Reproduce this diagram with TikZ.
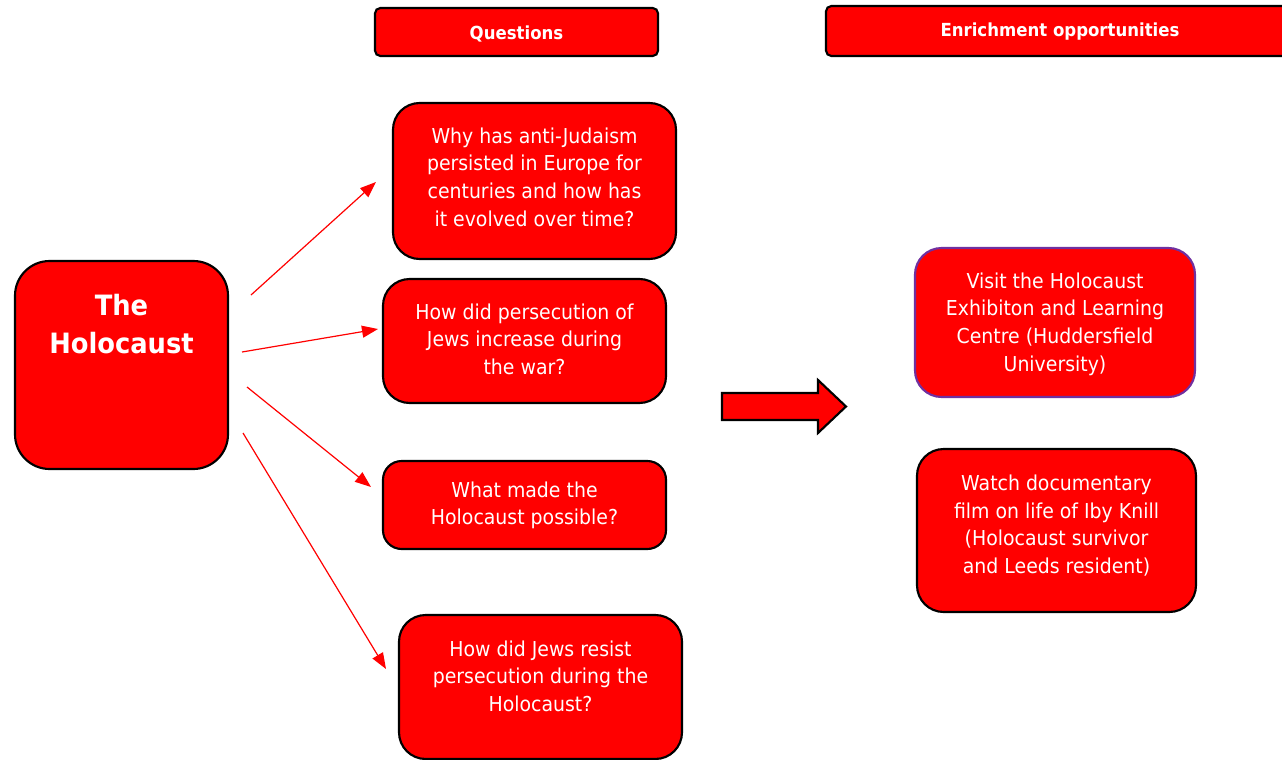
\documentclass[tikz,border=0pt]{standalone}
\usepackage{fontspec}
\setmainfont{DejaVu Sans}[FakeStretch=0.92]
\usetikzlibrary{arrows.meta}
\definecolor{boxred}{RGB}{255,0,0}
\definecolor{edgepurple}{RGB}{112,48,160}
\tikzset{
  box/.style={draw=black, line width=1.6pt, fill=boxred, rounded corners=20pt, inner sep=0pt},
  boxtext/.style={text=white, align=center, inner sep=0pt, font=\fontsize{15.4}{20.7}\selectfont},
  header/.style={draw=black, line width=1.6pt, fill=boxred, rounded corners=4pt, inner sep=0pt},
  headtext/.style={text=white, align=center, inner sep=0pt, font=\fontsize{13.5}{15}\selectfont\bfseries},
  link/.style={draw=boxred, line width=0.9pt, -{Triangle[length=12pt,width=9pt]}},
  bigarrow/.style={draw=black, line width=1.6pt, fill=boxred}
}
\begin{document}
\begin{tikzpicture}[x=0.75pt,y=-0.75pt]
\useasboundingbox (0,0) rectangle (1282,760);
\clip (0,0) rectangle (1282,760);
% headers
\node[header, minimum width=212.25pt, minimum height=36pt] (qhead) at (516.5,32) {};
\node[headtext] (qheadtext) at (516.5,33.5) {Questions};
\node[header, minimum width=351pt, minimum height=37.5pt] (ehead) at (1060,31) {};
\node[headtext] (eheadtext) at (1060,31.5) {Enrichment opportunities};
% main box
\node[box, rounded corners=26pt, minimum width=159.75pt, minimum height=156pt] (holo) at (121.5,365) {};
\node[text=white, align=center, font=\fontsize{21}{28.5}\selectfont\bfseries] (holotext) at (121.5,324) {The\\Holocaust};
% question boxes
\node[box, minimum width=212.25pt, minimum height=117pt] (q1) at (534.5,181) {};
\node[boxtext] (q1text) at (534.5,177) {Why has anti-Judaism\\persisted in Europe for\\centuries and how has\\it evolved over time?};
\node[box, minimum width=212.25pt, minimum height=93pt] (q2) at (524.5,341) {};
\node[boxtext] (q2text) at (524.5,339) {How did persecution of\\Jews increase during\\the war?};
\node[box, rounded corners=14pt, minimum width=212.25pt, minimum height=66pt] (q3) at (524.5,505) {};
\node[boxtext] (q3text) at (524.5,505.5) {What made the\\Holocaust possible?};
\node[box, minimum width=212.25pt, minimum height=108pt] (q4) at (540.5,687) {};
\node[boxtext] (q4text) at (540.5,676) {How did Jews resist\\persecution during the\\Holocaust?};
% enrichment boxes
\node[box, draw=edgepurple, minimum width=210pt, minimum height=111.75pt] (e1) at (1055,322.5) {};
\node[boxtext] (e1text) at (1055,324) {Visit the Holocaust\\Exhibiton and Learning\\Centre (Huddersfield\\University)};
\node[box, minimum width=209.25pt, minimum height=122.25pt] (e2) at (1056.5,530.5) {};
\node[boxtext] (e2text) at (1056.5,525.5) {Watch documentary\\film on life of Iby Knill\\(Holocaust survivor\\and Leeds resident)};
% connectors
\coordinate (s1) at (251,295); \coordinate (t1) at (376,182);
\coordinate (s2) at (242,352); \coordinate (t2) at (378,329);
\coordinate (s3) at (247,387); \coordinate (t3) at (371,487);
\coordinate (s4) at (243,433); \coordinate (t4) at (386,669);
\draw[link] (s1) -- (t1);
\draw[link] (s2) -- (t2);
\draw[link] (s3) -- (t3);
\draw[link] (s4) -- (t4);
% block arrow
\draw[bigarrow] (722,393) -- (818,393) -- (818,380) -- (846,406.5) -- (818,433) -- (818,420) -- (722,420) -- cycle;
\end{tikzpicture}
\end{document}
